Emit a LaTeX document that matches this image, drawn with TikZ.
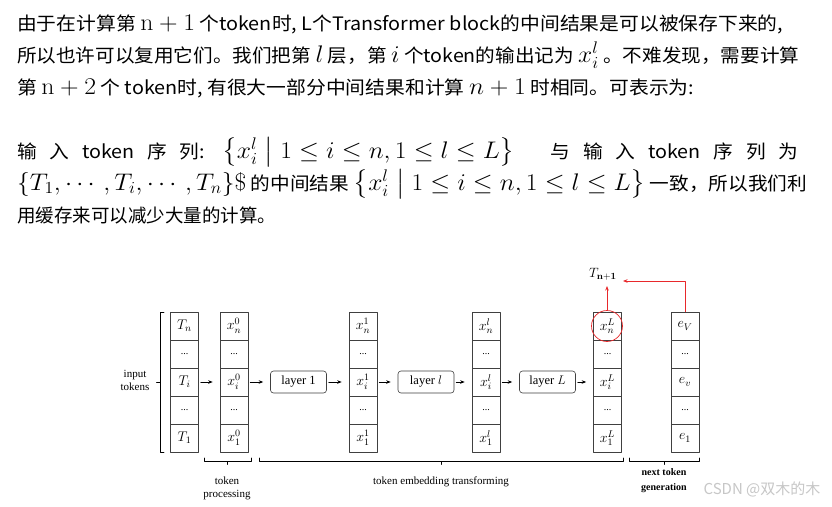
\RequirePackage{fix-cm}
\documentclass[tikz,border=0pt]{standalone}
\usepackage{amsmath,amssymb,graphicx}
\usepackage[no-math]{fontspec}
\setmainfont{Liberation Serif}
\newfontfamily\cjk{Noto Sans CJK SC}
\usetikzlibrary{arrows.meta,positioning}
\definecolor{hitred}{HTML}{E8282B}
\newcommand{\mm}[1]{{\fontsize{24}{24}\selectfont$#1$}}
\newcommand{\celldots}{{\fontsize{10}{10}\selectfont ...}}
\newcommand{\xset}{\left\{x_i^l \;\middle|\; 1\le i\le n, 1\le l\le L\right\}}
\newcommand{\fitline}[2]{\resizebox{#1}{\height}{#2}}
\newcommand{\gap}{\hspace{12pt}}

\begin{document}
\begin{tikzpicture}[x=1pt, y=-1pt, line cap=round, line join=round,
    para/.style={anchor=base west, inner sep=0pt, font=\cjk\fontsize{18.5}{18.5}\selectfont},
    cell/.style={draw=black!75, line width=0.6pt, minimum width=28pt, minimum height=28pt,
      inner sep=0pt, font=\fontsize{14}{14}\selectfont},
    layerbox/.style={draw=black!75, line width=0.6pt, rounded corners=3pt, minimum width=56pt,
      minimum height=22pt, inner sep=0pt, font=\fontsize{12.5}{12.5}\selectfont},
    flow/.style={line width=0.8pt, -{Stealth[length=4.5pt, width=3.5pt]}, shorten <=2pt, shorten >=7pt},
    hitflow/.style={hitred, line width=0.9pt, -{Stealth[length=4.5pt, width=3.5pt]}},
    brace/.style={line width=0.8pt},
    note/.style={align=center, inner sep=0pt, font=\fontsize{11}{13}\selectfont}]
  \fill[white] (0,0) rectangle (832,506);
  \useasboundingbox (0,0) rectangle (832,506);
  % the text above the figure
  \node[para] (l1) at (17,30.5) {\fitline{766pt}{由于在计算第 \mm{\mathrm{n}+1} 个token时, L个Transformer block的中间结果是可以被保存下来的,}};
  \node[para] (l2) at (17,62) {\fitline{782pt}{所以也许可以复用它们。我们把第 \mm{l} 层，第 \mm{i} 个token的输出记为 \mm{x_i^l} 。不难发现，需要计算}};
  \node[para] (l3) at (17,94) {\fitline{677pt}{第 \mm{\mathrm{n}+2} 个 token时, 有很大一部分中间结果和计算 \mm{n+1} 时相同。可表示为:}};
  \node[para] (l4) at (17,158) {\fitline{781pt}{输\gap 入\gap token\gap 序\gap 列:\hspace{16pt}\mm{\xset}\hspace{34pt}与\gap 输\gap 入\gap token\gap 序\gap 列\gap 为}};
  \node[para] (l5) at (17,190) {\fitline{790pt}{\mm{\{T_1,\cdots,T_i,\cdots,T_n\}\$} 的中间结果 \mm{\xset} 一致，所以我们利}};
  \node[para] (l6) at (17,222) {用缓存来可以减少大量的计算。};
  % input tokens
  \node[cell] (tok-n) at (184.5,326) {$T_n$};
  \node[cell] (tok-u) at (184.5,354) {\celldots};
  \node[cell] (tok-i) at (184.5,382) {$T_i$};
  \node[cell] (tok-d) at (184.5,410) {\celldots};
  \node[cell] (tok-1) at (184.5,438) {$T_1$};
  % hidden states of each layer
  \foreach \c/\x/\s in {emb/234/0, one/363/1, ell/486/l, last/607.5/L} {
    \node[cell] (\c-n) at (\x,326) {$x_n^{\s}$};
    \node[cell] (\c-u) at (\x,354) {\celldots};
    \node[cell] (\c-i) at (\x,382) {$x_i^{\s}$};
    \node[cell] (\c-d) at (\x,410) {\celldots};
    \node[cell] (\c-1) at (\x,438) {$x_1^{\s}$};
  }
  % vocabulary
  \node[cell] (voc-n) at (685,326) {$e_V$};
  \node[cell] (voc-u) at (685,354) {\celldots};
  \node[cell] (voc-i) at (685,382) {$e_v$};
  \node[cell] (voc-d) at (685,410) {\celldots};
  \node[cell] (voc-1) at (685,438) {$e_1$};
  % layers
  \node[layerbox] (lay1) at (298.5,382) {layer 1};
  \node[layerbox] (layl) at (426,382) {layer $l$};
  \node[layerbox] (layL) at (547.5,382) {layer $L$};
  \draw[flow] (tok-i) -- (emb-i);
  \draw[flow] (emb-i) -- (lay1);
  \draw[flow] (lay1) -- (one-i);
  \draw[flow] (one-i) -- (layl);
  \draw[flow] (layl) -- (ell-i);
  \draw[flow] (ell-i) -- (layL);
  \draw[flow] (layL) -- (last-i);
  % next token
  \node[circle, draw=hitred, line width=0.7pt, minimum size=31pt, inner sep=0pt] (hit) at (607,326) {};
  \node[font=\fontsize{13.5}{13.5}\selectfont] (tnext) at (603,274) {$T_{\mathbf{n+1}}$};
  \coordinate (hitend) at (607,286);
  \coordinate (feedend) at (623,281);
  \draw[hitflow] (hit) -- (hitend);
  \draw[hitflow] (voc-n.north) |- (feedend);
  % brackets
  \draw[brace] (164,312) -- (160,312) -- (160,452) -- (164,452);
  \draw[brace] (160,382) -- (156.5,382);
  \foreach \a/\b/\m in {204/251/227, 259/623/441, 629/699/664}
    \draw[brace] (\a,458) -- (\a,461.5) -- (\b,461.5) -- (\b,458) (\m,461.5) -- (\m,464.5);
  \node[note] (inlab) at (135,380.5) {input\\tokens};
  \node[note] (proclab) at (227,488) {token\\processing};
  \node[note] (translab) at (441,482) {token embedding transforming};
  \node[note, font=\bfseries\fontsize{10}{15}\selectfont] (genlab) at (664,480.5) {next token\\generation};
  \node[font=\cjk\fontsize{15}{15}\selectfont, text=black!22] (mark) at (762,489) {CSDN @双木的木};
\end{tikzpicture}
\end{document}
